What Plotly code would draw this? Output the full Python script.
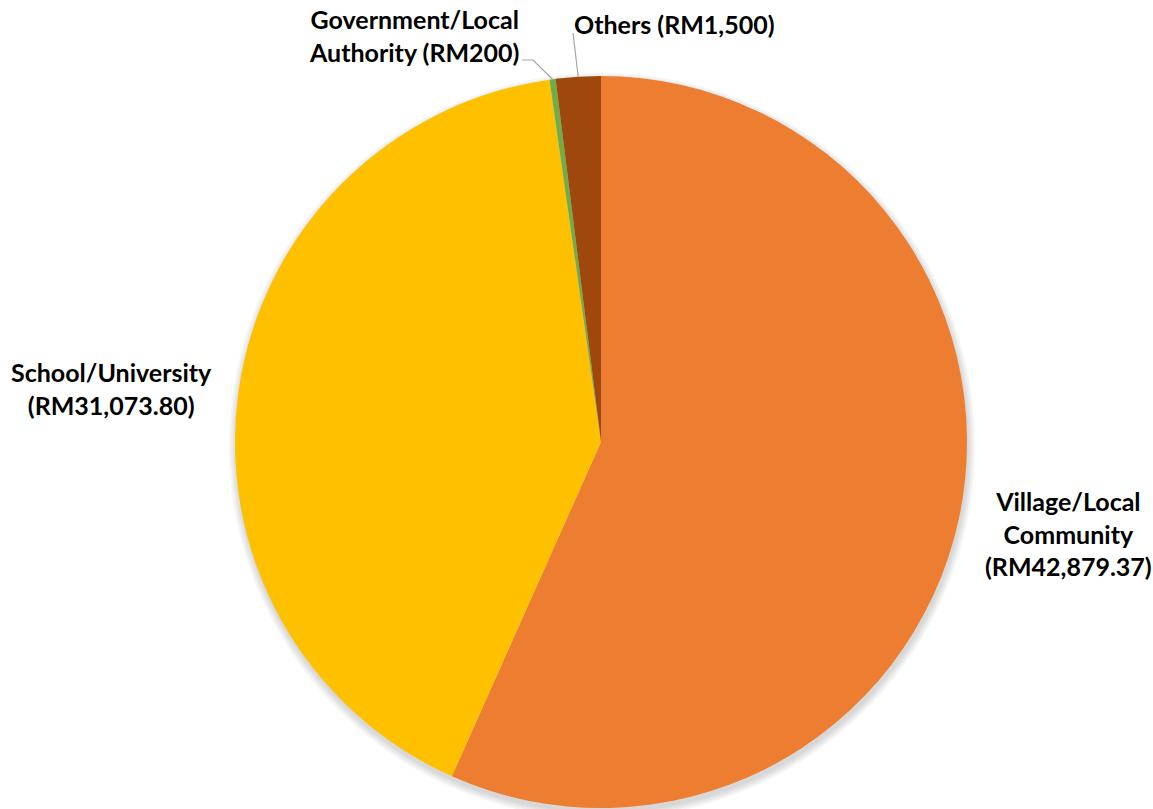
import math
import plotly.graph_objects as go

# Funding by source (RM)
categories = ["Village/Local Community", "School/University", "Government/Local Authority", "Others"]
amounts = [42879.37, 31073.80, 200, 1500]
label_text = [
    "Village/Local<br>Community<br>(RM42,879.37)",
    "School/University<br>(RM31,073.80)",
    "Government/Local<br>Authority (RM200)",
    "Others (RM1,500)",
]
colors = ["#ED7D31", "#FFC000", "#70AD47", "#9E480E"]

W, H = 1153, 809
cx, cy, R = 601, 442, 366  # pie centre / radius in pixels


def px(x):
    return x / W


def py(y):
    return 1 - y / H


fig = go.Figure()
fig.add_trace(go.Pie(
    labels=categories,
    values=amounts,
    sort=False,
    direction="clockwise",
    rotation=0,
    marker=dict(colors=colors, line=dict(width=0)),
    textinfo="none",
    hoverinfo="label+value",
    showlegend=False,
    domain=dict(x=[px(cx - R), px(cx + R)], y=[py(cy + R), py(cy - R)]),
))

# mid-angle of each slice (clockwise from 12 o'clock)
total = sum(amounts)
mids = []
acc = 0
for v in amounts:
    mids.append((acc + v / 2) / total * 2 * math.pi)
    acc += v


def edge(i):
    a = mids[i]
    return cx + R * math.sin(a), cy - R * math.cos(a)


shapes = []
# soft drop shadow under the pie
for k in range(4):
    g = 1 + k * 2
    shapes.append(dict(type="circle", xref="paper", yref="paper", layer="below",
                       x0=px(cx - R - g + 1), x1=px(cx + R + g + 1),
                       y0=py(cy + R + g + 4), y1=py(cy - R - g + 4),
                       fillcolor="rgba(0,0,0,0.04)", line=dict(width=0)))

# leader lines for the two thin slices
gx, gy = edge(2)
shapes.append(dict(type="path", xref="paper", yref="paper",
                   path=f"M {px(gx)},{py(gy)} L {px(533)},{py(60)} L {px(522)},{py(60)}",
                   line=dict(color="#A6A6A6", width=1.2)))
ox, oy = edge(3)
shapes.append(dict(type="path", xref="paper", yref="paper",
                   path=f"M {px(ox)},{py(oy)} L {px(573)},{py(33)}",
                   line=dict(color="#A6A6A6", width=1.2)))

font = dict(family="Lato, Calibri, sans-serif", size=25, color="#000000")
label_pos = [(1068, 533), (111, 388), (414, 36), (674, 24)]
annotations = []
for txt, (x, y) in zip(label_text, label_pos):
    annotations.append(dict(text=f"<b>{txt}</b>", x=px(x), y=py(y), xref="paper", yref="paper",
                            showarrow=False, xanchor="center", yanchor="middle",
                            align="center", font=font))

fig.update_layout(
    width=W, height=H,
    margin=dict(l=0, r=0, t=0, b=0),
    paper_bgcolor="white",
    plot_bgcolor="white",
    shapes=shapes,
    annotations=annotations,
)

fig.write_html("out.html")
